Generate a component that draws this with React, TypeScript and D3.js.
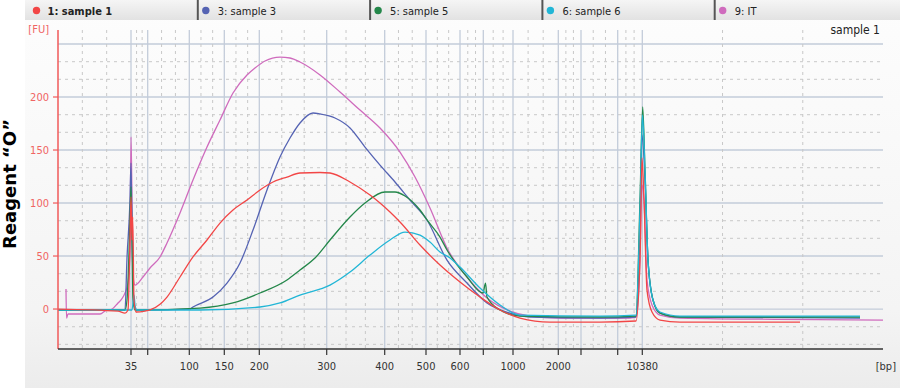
import React from 'react'
import * as d3 from 'd3'

// ladder sizes and their migration times (s); the x axis is linear in time
const ladderBp = [35, 50, 100, 150, 200, 300, 400, 500, 600, 700, 1000, 2000, 3000, 7000, 10380]
const ladderTime = [47.3, 48.97, 53.13, 56.63, 60.13, 66.87, 72.67, 76.8, 80.2, 82.53, 85.5, 90.03, 92.3, 95.97, 98.43]
const labeledBp = [35, 100, 150, 200, 300, 400, 500, 600, 1000, 2000, 10380]
const timeDomain = [40, 122.5]
const fuDomain = [-37.7, 263.2]
const fuTicks = [0, 50, 100, 150, 200]
const fuGrid = [-33.3, -16.7, 0, 16.7, 33.3, 50, 66.7, 83.3, 100, 116.7, 133.3, 150, 166.7, 183.3, 200, 216.7, 233.3, 250]

const legendLabels = ['1: sample 1', '3: sample 3', '5: sample 5', '6: sample 6', '9: IT']
const legendColors = ['#f24646', '#5563b3', '#24874a', '#22b6d6', '#cf6bbd']

// [time (s), FU]
const sample1 = [
  [40, 0], [46.0, -1.9], [46.7, -3.8], [47.0, -0.9], [47.2, 65.1], [47.3, 105.7], [47.4, 65.1], [47.47, 86.8],
  [47.6, 8.5], [47.8, -2.8], [48.7, -1.9], [49.2, -0.9], [50.2, 4.5], [50.9, 11.3], [52.2, 30.2], [53.5, 49.1], [54.9, 65.1],
  [56.2, 81.1], [57.5, 93.4], [58.9, 102.8], [60.2, 112.3], [61.5, 119.8], [62.9, 124.5], [64.2, 128.3],
  [66.2, 128.8], [67.2, 128.3], [69.2, 119.8], [71.2, 107.5], [72.2, 100], [73.2, 91.5], [74.2, 82.1],
  [76.2, 60.4], [78.2, 41.5], [80.2, 25.5], [82.2, 11.3], [84.2, -0.9], [86.2, -8.5], [89.2, -12.3],
  [94.2, -12.3], [97.8, -11.3], [98.2, 46.2], [98.4, 142.5], [98.6, 102.8], [98.9, 17.9], [99.4, -2.8],
  [100.2, -10.4], [102.2, -12.3], [114.2, -12.3]
]

const sample3 = [
  [40, -0.9], [46.7, -0.9], [46.9, 48.1], [47.2, 102.8], [47.3, 137.7], [47.4, 74.5], [47.6, 3.8], [47.9, -0.9],
  [53.2, 0], [53.5, 1.9], [55.5, 11.3], [56.9, 24.5], [58.2, 43.4], [59.5, 74.5], [60.9, 112.3], [62.2, 143.4],
  [63.2, 161.3], [64.2, 175.5], [65.5, 184.9], [66.2, 184], [67.7, 180.2], [69.2, 170.8], [70.7, 152.8],
  [72.2, 135.8], [73.7, 119.8], [75.2, 102.8], [76.9, 84], [78.9, 46.2], [80.9, 24.5], [82.9, 5.7],
  [85.2, -3.8], [87.2, -7.5], [94.2, -8.5], [97.8, -7.5], [98.2, 74.5], [98.4, 164.2], [98.7, 121.7],
  [99.0, 46.2], [99.5, 8.5], [100.2, -3.8], [102.2, -7.5], [120.2, -8.5]
]

const sample5 = [
  [40, -0.9], [46.7, -0.9], [46.9, 8.5], [47.2, 84], [47.3, 115.1], [47.4, 65.1], [47.5, 8.5], [47.7, -0.9], [54.2, 0.9],
  [57.5, 5.7], [60.2, 15.1], [62.9, 27.4], [64.2, 36.8], [65.7, 48.1], [67.2, 65.1], [69.2, 86.8], [70.7, 100],
  [72.7, 110.4], [73.7, 110.4], [74.7, 106.6], [76.2, 93.4], [76.9, 84], [78.2, 67.9], [78.9, 55.7],
  [80.9, 30.2], [82.5, 15.1], [82.75, 24.5], [82.9, 11.3], [84.2, -0.9], [86.2, -6.6], [94.2, -7.5],
  [97.8, -6.6], [98.2, 102.8], [98.47, 190.6], [98.7, 131.1], [99.0, 46.2], [99.5, 8.5], [100.2, -3.8],
  [102.2, -7.5], [120.2, -7.5]
]

const sample6 = [
  [40, -0.9], [47.4, -0.9], [47.6, 13.2], [47.7, 3.8], [47.9, -0.9], [54.2, -0.9], [60.2, 1.9], [62.2, 5.7],
  [64.2, 13.2], [67.2, 22.6], [69.2, 34.9], [71.2, 50.9], [73.2, 65.1], [74.7, 72.6], [76.2, 69.8],
  [77.2, 63.2], [78.2, 53.8], [79.2, 48.1], [80.2, 39.6], [82.2, 19.8], [84.2, 3.8], [86.2, -5.7],
  [94.2, -6.6], [97.8, -5.7], [98.2, 93.4], [98.45, 183], [98.7, 131.1], [99.0, 46.2], [99.5, 8.5],
  [100.2, -2.8], [102.2, -6.6], [120.2, -6.6]
]

const sampleIT = [
  [40.8, 18.9], [40.85, -8.5], [41.0, -4.7], [44.2, -4.7], [44.9, -0.9], [45.2, -0.9], [46.0, 5.7], [46.5, 11.3],
  [47.0, 24.5], [47.2, 55.7], [47.3, 162.3], [47.4, 102.8], [47.55, 27.4], [47.7, 22.6], [48.5, 30.2],
  [49.2, 38.7], [50.2, 49.1], [50.9, 62.3], [52.2, 90.6], [53.5, 121.7], [54.9, 152.8], [56.2, 178.3],
  [57.5, 203.8], [58.9, 220.8], [59.7, 227.4], [60.7, 234], [62.2, 237.7], [63.2, 236.8], [64.2, 233],
  [66.2, 220.8], [68.2, 204.7], [70.2, 187.7], [72.2, 170.8], [74.2, 148.1], [75.7, 124.5], [77.2, 95.3],
  [78.9, 57.5], [80.9, 30.2], [82.9, 10.4], [85.2, -1.9], [87.2, -6.6], [90.2, -8.5], [97.2, -8.5], [97.8, -7.5],
  [98.2, 46.2], [98.4, 117], [98.6, 102.8], [98.9, 27.4], [99.4, 3.8], [100.2, -5.7], [102.2, -8.5],
  [122.5, -10.4]
]

const W = 900
const H = 388
const plot = { left: 58, right: 883, top: 30, bottom: 349 }
const font = "'DejaVu Sans Condensed', 'DejaVu Sans', sans-serif"

export default function App () {
  const x = d3.scaleLinear().domain(timeDomain).range([plot.left, plot.right])
  const y = d3.scaleLinear().domain(fuDomain).range([plot.bottom, plot.top])

  const line = d3.line<number[]>()
    .x(d => x(d[0]))
    .y(d => y(d[1]))
    .curve(d3.curveMonotoneX)

  // dashed vertical grid: thirds between consecutive stops
  const stops = [timeDomain[0], ...ladderTime, timeDomain[1]]
  const minorX: number[] = []
  for (let i = 0; i < stops.length - 1; i++) {
    const a = stops[i]
    const b = stops[i + 1]
    minorX.push(a + (b - a) / 3, a + 2 * (b - a) / 3)
  }

  // draw order: IT at back, sample 1 in front
  const series = [
    { data: sampleIT, color: legendColors[4] },
    { data: sample3, color: legendColors[1] },
    { data: sample5, color: legendColors[2] },
    { data: sample6, color: legendColors[3] },
    { data: sample1, color: legendColors[0] }
  ]

  const itemW = 172.3

  return (
    <svg width={W} height={H} style={{ position: 'absolute', left: 0, top: 0 }} fontFamily={font}>
      <defs>
        <linearGradient id='panel' x1='0' y1='0' x2='0' y2='1'>
          <stop offset='0' stopColor='#fdfdfd' />
          <stop offset='0.8' stopColor='#f4f4f4' />
          <stop offset='1' stopColor='#ececec' />
        </linearGradient>
        <linearGradient id='bar' x1='0' y1='0' x2='0' y2='1'>
          <stop offset='0' stopColor='#f5f5f5' />
          <stop offset='1' stopColor='#e2e2e2' />
        </linearGradient>
        <clipPath id='clip'>
          <rect x={plot.left} y={plot.top} width={plot.right - plot.left} height={plot.bottom - plot.top} />
        </clipPath>
      </defs>

      <rect x={0} y={0} width={W} height={H} fill='#ffffff' />
      <rect x={25} y={0} width={W - 25} height={H} fill='url(#panel)' />

      {/* legend bar */}
      <rect x={25} y={0} width={W - 25} height={20} fill='url(#bar)' />
      {legendLabels.map((lab, i) => {
        const x0 = 25.5 + i * itemW
        return (
          <g key={lab}>
            {i > 0 && <line x1={x0} x2={x0} y1={0} y2={20} stroke='#555' strokeWidth={2} />}
            <circle cx={x0 + (i === 0 ? 11 : 8)} cy={10.5} r={3.7} fill={legendColors[i]} />
            <text x={x0 + (i === 0 ? 22 : 20)} y={14.5} fontSize={11} fill='#222' fontWeight={i === 0 ? 'bold' : 'normal'}>{lab}</text>
          </g>
        )
      })}

      {/* grid */}
      {fuGrid.map(v => {
        const major = Math.abs(v % 50) < 0.01
        return (
          <line key={'h' + v} x1={plot.left} x2={plot.right} y1={y(v)} y2={y(v)}
            stroke={major ? '#c3ccda' : '#c8c8c8'} strokeWidth={major ? 1.3 : 1}
            strokeDasharray={major ? undefined : '3,4'} />
        )
      })}
      {minorX.map((t, i) => (
        <line key={'vm' + i} x1={x(t)} x2={x(t)} y1={plot.top} y2={plot.bottom}
          stroke='#c8c8c8' strokeDasharray='3,4' />
      ))}
      {ladderTime.map((t, i) => (
        <line key={'v' + i} x1={x(t)} x2={x(t)} y1={plot.top} y2={plot.bottom}
          stroke='#c3ccda' strokeWidth={1.3} />
      ))}

      {/* traces */}
      <g clipPath='url(#clip)'>
        {series.map((s, i) => (
          <path key={i} d={line(s.data) || ''} fill='none' stroke={s.color} strokeWidth={1.3} strokeLinejoin='round' />
        ))}
      </g>

      {/* y axis */}
      <line x1={plot.left} x2={plot.left} y1={plot.top} y2={plot.bottom} stroke='#f05a5a' strokeWidth={1.5} />
      {fuTicks.map(v => (
        <g key={'yt' + v}>
          <line x1={plot.left - 5} x2={plot.left} y1={y(v)} y2={y(v)} stroke='#f05a5a' strokeWidth={1.2} />
          <text x={49} y={y(v) + 4} textAnchor='end' fontSize={11} fill='#f06464'>{v}</text>
        </g>
      ))}
      <text x={49} y={33} textAnchor='end' fontSize={11} fill='#f06464'>[FU]</text>

      {/* x axis */}
      <line x1={plot.left} x2={plot.right} y1={plot.bottom} y2={plot.bottom} stroke='#333' strokeWidth={1.5} />
      {ladderTime.map((t, i) => (
        <line key={'xt' + i} x1={x(t)} x2={x(t)} y1={plot.bottom} y2={plot.bottom + 6} stroke='#333' strokeWidth={1.2} />
      ))}
      {labeledBp.map(bp => (
        <text key={'xl' + bp} x={x(ladderTime[ladderBp.indexOf(bp)])} y={370} textAnchor='middle' fontSize={11} fill='#333'>{bp}</text>
      ))}
      <text x={896} y={370} textAnchor='end' fontSize={11} fill='#333'>[bp]</text>

      <text x={880} y={34} textAnchor='end' fontSize={12} fill='#222'>sample 1</text>

      <text transform='translate(16,184) rotate(-90)' textAnchor='middle' fontSize={18} fontWeight='bold'
        fontFamily="'DejaVu Sans', sans-serif" fill='#000'>Reagent “O”</text>
    </svg>
  )
}
